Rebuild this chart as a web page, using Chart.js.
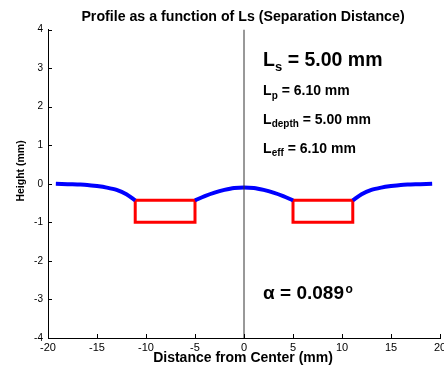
<!DOCTYPE html>
<html>
<head>
<meta charset="utf-8">
<script src="https://cdn.jsdelivr.net/npm/chart.js@4/dist/chart.umd.min.js"></script>
<style>
html,body{margin:0;padding:0;background:#fff;}
#wrap{width:444px;height:373px;position:relative;}
</style>
</head>
<body>
<div id="wrap"><canvas id="c" width="444" height="373"></canvas></div>
<script>
// ---- data ----
const xTicks = [-20,-15,-10,-5,0,5,10,15,20];
const yTicks = [-4,-3,-2,-1,0,1,2,3,4];

const profileLeftX  = [-19.2,-18,-17,-16,-15,-14,-13,-12,-11.1];
const profileLeftY  = [0,-0.01,-0.02,-0.03,-0.06,-0.10,-0.16,-0.27,-0.43];
const profileMidX   = [-5,-4,-3,-2,-1,0,1,2,3,4,5];
const profileMidY   = [-0.43,-0.32,-0.23,-0.16,-0.11,-0.10,-0.11,-0.16,-0.23,-0.32,-0.43];
const profileRightX = [11.1,12,13,14,15,16,17,18,19.2];
const profileRightY = [-0.43,-0.27,-0.16,-0.10,-0.06,-0.03,-0.02,-0.01,0];

const boxLeftX  = [-11.1,-11.1,-5,-5,-11.1];
const boxLeftY  = [-0.43,-1,-1,-0.43,-0.43];
const boxRightX = [5,5,11.1,11.1,5];
const boxRightY = [-0.43,-1,-1,-0.43,-0.43];

const centerLineX = [0,0];
const centerLineY = [-4,4];

const titleText = 'Profile as a function of Ls (Separation Distance)';
const xTitle = 'Distance from Center (mm)';
const yTitle = 'Height (mm)';
const annotations = [
  {main:'L', sub:'s', rest:' = 5.00 mm', size:19.5, subSize:13},
  {main:'L', sub:'p', rest:' = 6.10 mm', size:14, subSize:10},
  {main:'L', sub:'depth', rest:' = 5.00 mm', size:14, subSize:10},
  {main:'L', sub:'eff', rest:' = 6.10 mm', size:14, subSize:10}
];
const alphaText = '\u03B1 = 0.089';

const FONT = '"Liberation Sans", Arial, Helvetica, sans-serif';

function pts(xs, ys){ return xs.map((x,i)=>({x:x, y:ys[i]})); }

const textPlugin = {
  id:'textPlugin',
  afterDraw(chart){
    const ctx = chart.ctx, ca = chart.chartArea;
    const xs = chart.scales.x, ys = chart.scales.y;
    ctx.save();
    // inward ticks
    ctx.strokeStyle = '#000'; ctx.lineWidth = 1;
    xs.ticks.forEach(t=>{
      const px = Math.round(xs.getPixelForValue(t.value)) + 0.5;
      ctx.beginPath(); ctx.moveTo(px, ca.bottom); ctx.lineTo(px, ca.bottom-4); ctx.stroke();
    });
    ys.ticks.forEach(t=>{
      const py = Math.round(ys.getPixelForValue(t.value)) + 0.5;
      ctx.beginPath(); ctx.moveTo(ca.left, py); ctx.lineTo(ca.left+4, py); ctx.stroke();
    });
    ctx.fillStyle = '#000';
    // title
    ctx.font = 'bold 14.2px ' + FONT;
    ctx.textAlign = 'center'; ctx.textBaseline = 'alphabetic';
    const cx = (ca.left + ca.right)/2 - 1;
    ctx.fillText(titleText, cx, 20.5);
    // x title
    ctx.font = 'bold 14px ' + FONT;
    ctx.fillText(xTitle, cx, 362);
    // y title
    ctx.save();
    ctx.translate(24, 171);
    ctx.rotate(-Math.PI/2);
    ctx.font = 'bold 10.5px ' + FONT;
    ctx.fillText(yTitle, 0, 0);
    ctx.restore();
    // annotations
    ctx.textAlign = 'left';
    const ax = xs.getPixelForValue(2) - 0.5;
    const baselines = [66, 95, 123.5, 152.5];
    annotations.forEach((a,i)=>{
      let x = ax; const y = baselines[i];
      ctx.font = 'bold ' + a.size + 'px ' + FONT;
      ctx.fillText(a.main, x, y); x += ctx.measureText(a.main).width;
      ctx.font = 'bold ' + a.subSize + 'px ' + FONT;
      ctx.fillText(a.sub, x, y + a.size*0.28); x += ctx.measureText(a.sub).width;
      ctx.font = 'bold ' + a.size + 'px ' + FONT;
      ctx.fillText(a.rest, x, y);
    });
    // alpha
    ctx.font = 'bold 19px ' + FONT;
    let x = ax;
    ctx.fillText(alphaText, x, 298.5);
    x += ctx.measureText(alphaText).width + 1.5;
    ctx.font = 'bold 12px ' + FONT;
    ctx.fillText('o', x, 293);
    ctx.restore();
  }
};

new Chart(document.getElementById('c'), {
  type:'scatter',
  data:{
    datasets:[
      {data:pts(centerLineX, centerLineY), showLine:true, borderColor:'#333', borderWidth:1, pointRadius:0},
      {data:pts(profileLeftX, profileLeftY), showLine:true, borderColor:'#0000ff', borderWidth:4, pointRadius:0, tension:0.3, borderCapStyle:'butt'},
      {data:pts(profileMidX, profileMidY), showLine:true, borderColor:'#0000ff', borderWidth:4, pointRadius:0, tension:0.3},
      {data:pts(profileRightX, profileRightY), showLine:true, borderColor:'#0000ff', borderWidth:4, pointRadius:0, tension:0.3},
      {data:pts(boxLeftX, boxLeftY), showLine:true, borderColor:'#ff0000', borderWidth:3, pointRadius:0, borderJoinStyle:'miter'},
      {data:pts(boxRightX, boxRightY), showLine:true, borderColor:'#ff0000', borderWidth:3, pointRadius:0, borderJoinStyle:'miter'}
    ]
  },
  options:{
    responsive:false,
    animation:false,
    devicePixelRatio:1,
    layout:{padding:{top:29.5, right:4, left:0, bottom:0}},
    plugins:{legend:{display:false}, tooltip:{enabled:false}, title:{display:false}},
    scales:{
      x:{
        type:'linear', min:-20, max:20,
        afterBuildTicks(s){ s.ticks = xTicks.map(v=>({value:v})); },
        afterFit(s){ s.height = 35; s.paddingLeft = 0; s.paddingRight = 0; },
        grid:{display:false, drawTicks:false},
        border:{display:true, color:'#000', width:1},
        ticks:{color:'#000', padding:3, font:{family:FONT, size:11}, maxRotation:0, autoSkip:false}
      },
      y:{
        type:'linear', min:-4, max:4,
        afterBuildTicks(s){ s.ticks = yTicks.map(v=>({value:v})); },
        afterFit(s){ s.width = 48; s.paddingTop = 0; s.paddingBottom = 0; },
        grid:{display:false, drawTicks:false},
        border:{display:true, color:'#000', width:1},
        ticks:{color:'#000', padding:5, font:{family:FONT, size:10}, autoSkip:false}
      }
    }
  },
  plugins:[textPlugin]
});
</script>
</body>
</html>
